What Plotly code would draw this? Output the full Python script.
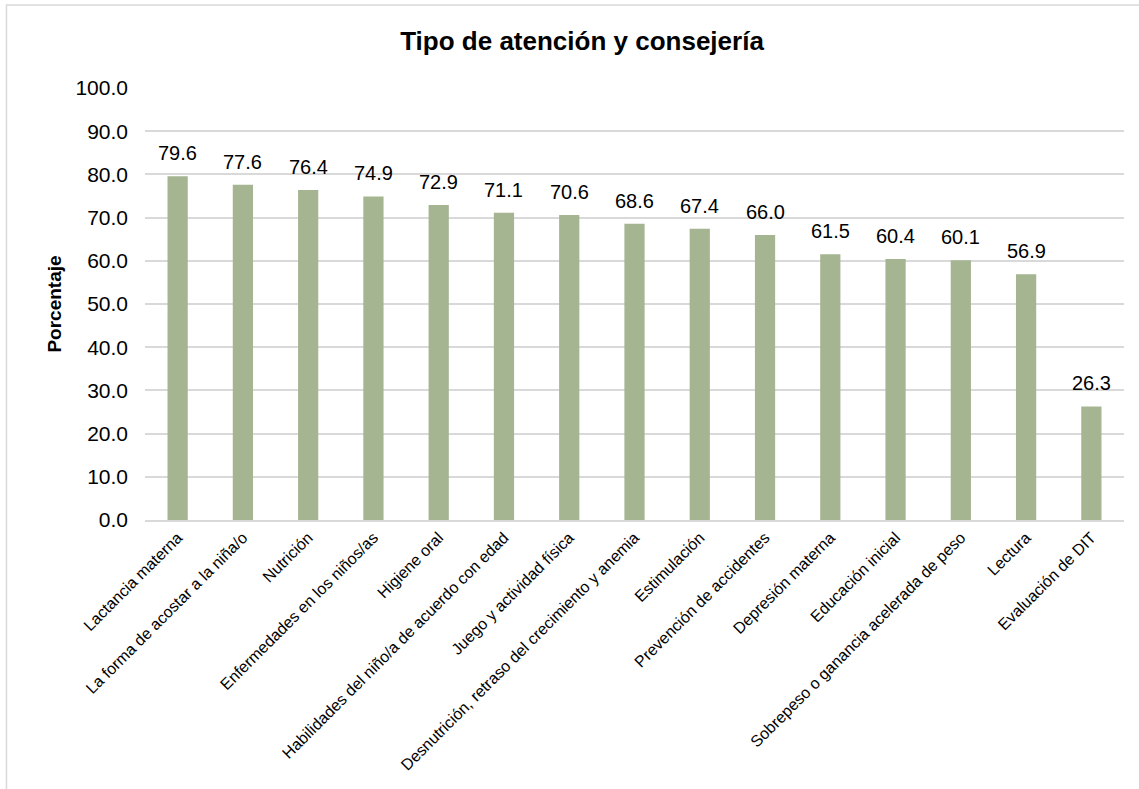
import plotly.graph_objects as go

categorias = [
    "Lactancia materna",
    "La forma de acostar a la niña/o",
    "Nutrición",
    "Enfermedades en los niños/as",
    "Higiene oral",
    "Habilidades del niño/a de acuerdo con edad",
    "Juego y actividad física",
    "Desnutrición, retraso del crecimiento y anemia",
    "Estimulación",
    "Prevención de accidentes",
    "Depresión materna",
    "Educación inicial",
    "Sobrepeso o ganancia acelerada de peso",
    "Lectura",
    "Evaluación de DIT",
]
porcentajes = [79.6, 77.6, 76.4, 74.9, 72.9, 71.1, 70.6, 68.6, 67.4, 66.0, 61.5, 60.4, 60.1, 56.9, 26.3]
ticks_y = [0, 10, 20, 30, 40, 50, 60, 70, 80, 90, 100]

FONT = "Liberation Sans, Arial, sans-serif"

fig = go.Figure(
    go.Bar(
        x=categorias,
        y=porcentajes,
        marker=dict(color="#A5B592", line=dict(width=0)),
        width=0.31,
        hoverinfo="x+y",
    )
)

# value labels above each bar
for cat, val in zip(categorias, porcentajes):
    fig.add_annotation(
        x=cat,
        y=val,
        text=f"{val:.1f}",
        showarrow=False,
        xanchor="center",
        yanchor="bottom",
        yshift=10,
        font=dict(size=20, family=FONT, color="#000000"),
    )

fig.update_layout(
    width=1139,
    height=789,
    margin=dict(l=145, r=15, t=88, b=269),
    paper_bgcolor="white",
    plot_bgcolor="white",
    font=dict(family=FONT, color="#000000"),
    showlegend=False,
    title=dict(
        text="<b>Tipo de atención y consejería</b>",
        x=0.511,
        xanchor="center",
        y=0.948,
        yanchor="middle",
        font=dict(size=26, family=FONT, color="#000000"),
    ),
    shapes=[
        dict(
            type="rect",
            xref="paper",
            yref="paper",
            x0=-0.1415,
            x1=1.2,
            y0=-1.0,
            y1=1.192,
            line=dict(color="#D9D9D9", width=1.5),
            fillcolor="rgba(0,0,0,0)",
            layer="below",
        )
    ],
)

fig.update_xaxes(
    tickangle=-45,
    tickfont=dict(size=16, family=FONT, color="#000000"),
    showgrid=False,
    showline=True,
    linecolor="#D9D9D9",
    linewidth=2,
    ticks="",
    automargin=False,
)

fig.update_yaxes(
    range=[0, 100],
    tickvals=ticks_y,
    tickformat=".1f",
    tickfont=dict(size=21, family=FONT, color="#000000"),
    ticklabelstandoff=16,
    showgrid=True,
    gridcolor="#D9D9D9",
    gridwidth=1.5,
    zeroline=False,
    showline=False,
    ticks="",
    automargin=False,
    title=dict(
        text="<b>Porcentaje</b>",
        font=dict(size=19, family=FONT, color="#000000"),
        standoff=8,
    ),
)

fig.write_html("out.html")
